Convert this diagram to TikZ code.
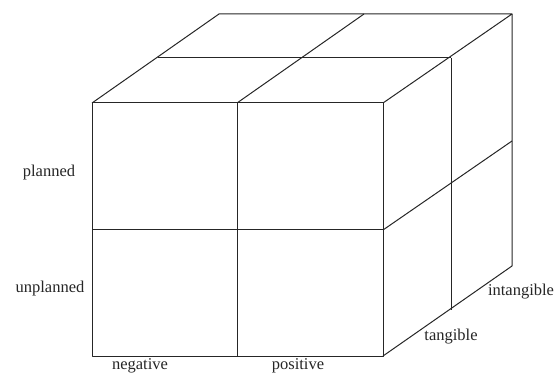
\documentclass[tikz,border=0pt]{standalone}
\usepackage{fontspec}
\setmainfont{Liberation Serif}
\begin{document}
\begin{tikzpicture}[x=1pt,y=-1pt,
  edge/.style={draw=black!85,line width=1pt,line join=round},
  lbl/.style={font=\fontsize{16.5}{19}\selectfont,text=black!85,inner sep=0pt}]
\useasboundingbox (0,0) rectangle (560,374);
% front face
\coordinate (FTL) at (92,103);
\coordinate (FTM) at (237,103);
\coordinate (FTR) at (383,103);
\coordinate (FML) at (92,230);
\coordinate (FMR) at (383,230);
\coordinate (FBL) at (92,356);
\coordinate (FBM) at (237,356);
\coordinate (FBR) at (383,356);
% top middle depth
\coordinate (HTL) at (158,58);
\coordinate (HTR) at (451,58);
% back top
\coordinate (BTL) at (219,14);
\coordinate (BTM) at (364,14);
\coordinate (BTR) at (512,14);
% right face
\coordinate (HBR) at (451,310);
\coordinate (BMR) at (512,141);
\coordinate (BBR) at (512,266);
% front face
\draw[edge] (FTL) rectangle (FBR);
\draw[edge] (FTM) -- (FBM);
\draw[edge] (FML) -- (FMR);
% top face
\draw[edge] (FTL) -- (BTL) -- (BTR) -- (FTR);
\draw[edge] (FTM) -- (BTM);
\draw[edge] (HTL) -- (HTR);
% right face
\draw[edge] (BTR) -- (BBR) -- (FBR);
\draw[edge] (HTR) -- (HBR);
\draw[edge] (FMR) -- (BMR);
% labels
\node[lbl] (planned) at (49,173) {planned};
\node[lbl] (unplanned) at (50,289) {unplanned};
\node[lbl,anchor=base] (negative) at (140,370) {negative};
\node[lbl,anchor=base] (positive) at (298,370) {positive};
\node[lbl] (tangible) at (451,337) {tangible};
\node[lbl] (intangible) at (521,292) {intangible};
\end{tikzpicture}
\end{document}
